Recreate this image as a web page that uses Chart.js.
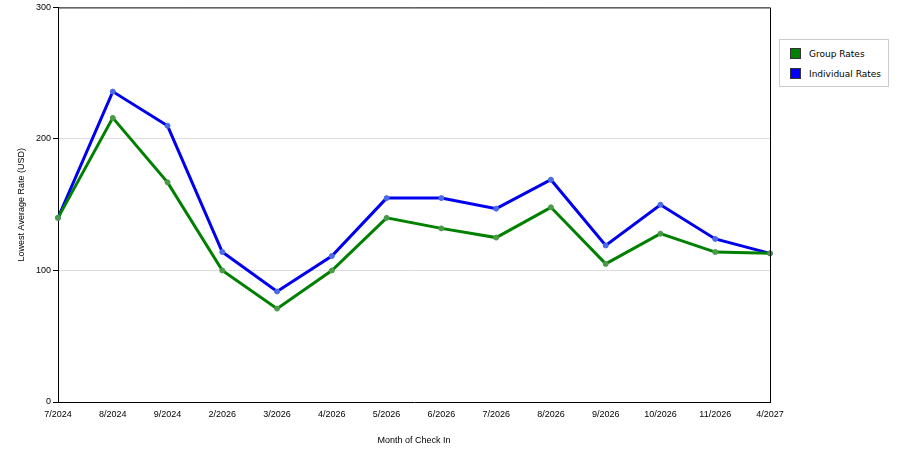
<!DOCTYPE html>
<html><head><meta charset="utf-8">
<script src="https://cdn.jsdelivr.net/npm/chart.js@4/dist/chart.umd.min.js"></script>
<style>
body{margin:0;background:#fff;font-family:"DejaVu Sans",sans-serif}
#wrap{position:relative;width:900px;height:450px}
#legend{position:absolute;left:779px;top:39px;width:108px;height:46px;border:1px solid #ccc;font-size:9px;background:#fff}
#legend div{position:absolute;left:10px;display:flex;align-items:center}
#legend span{display:inline-block;width:11px;height:11px;margin-right:8px;border:1px solid #333;box-sizing:border-box}
</style></head><body>
<div id="wrap"><canvas id="c" width="900" height="450"></canvas>
<div id="legend"><div style="top:8px"><span style="background:#008000"></span>Group Rates</div><div style="top:28px"><span style="background:#0000ff"></span>Individual Rates</div></div></div>
<script>
const categories=["7/2024","8/2024","9/2024","2/2026","3/2026","4/2026","5/2026","6/2026","7/2026","8/2026","9/2026","10/2026","11/2026","4/2027"];
const groupRates=[140,216,167,100,71,100,140,132,125,148,105,128,114,113];
const individualRates=[140,236,210,114,84,111,155,155,147,169,119,150,124,113];
const yTicks=[0,100,200,300];
const frame={id:'frame',afterDraw(c){const a=c.chartArea,x=c.ctx;x.save();x.strokeStyle='#000';x.lineWidth=1;x.beginPath();x.moveTo(a.left,a.top+0.5);x.lineTo(a.right+0.5,a.top+0.5);x.lineTo(a.right+0.5,a.bottom);x.stroke();x.restore();}};
new Chart(document.getElementById('c'),{type:'line',
data:{labels:categories,datasets:[
{label:'Group Rates',data:groupRates,borderColor:'#008000',borderWidth:3,pointRadius:2.5,pointBorderWidth:1,pointBackgroundColor:'#4a9a4a',pointBorderColor:'#4a9a4a',tension:0},
{label:'Individual Rates',data:individualRates,borderColor:'#0000ee',borderWidth:3,pointRadius:2.5,pointBorderWidth:1,pointBackgroundColor:'#4a6ae8',pointBorderColor:'#4a6ae8',tension:0}]},
options:{responsive:false,animation:false,layout:{padding:{left:12,right:130,top:4,bottom:0}},
plugins:{legend:{display:false},tooltip:{enabled:false}},
scales:{
x:{offset:false,afterFit(s){s.height=48},grid:{display:false,drawTicks:true,tickLength:5,tickColor:'#000'},border:{color:'#000'},
ticks:{color:'#000',font:{size:9},maxRotation:0,autoSkip:false,padding:2},title:{display:true,text:'Month of Check In',color:'#000',font:{size:9},padding:{top:4}}},
y:{min:0,max:300,afterFit(s){s.width=46},afterBuildTicks(s){s.ticks=yTicks.map(v=>({value:v}))},
grid:{color:c=>(c.tick.value===100||c.tick.value===200)?'#ddd':'rgba(0,0,0,0)',tickColor:'#000',tickLength:5,drawTicks:true},border:{color:'#000'},
ticks:{color:'#000',font:{size:9},padding:2},title:{display:true,text:'Lowest Average Rate (USD)',color:'#000',font:{size:9},padding:{bottom:4}}}}},
plugins:[frame]});
</script></body></html>
